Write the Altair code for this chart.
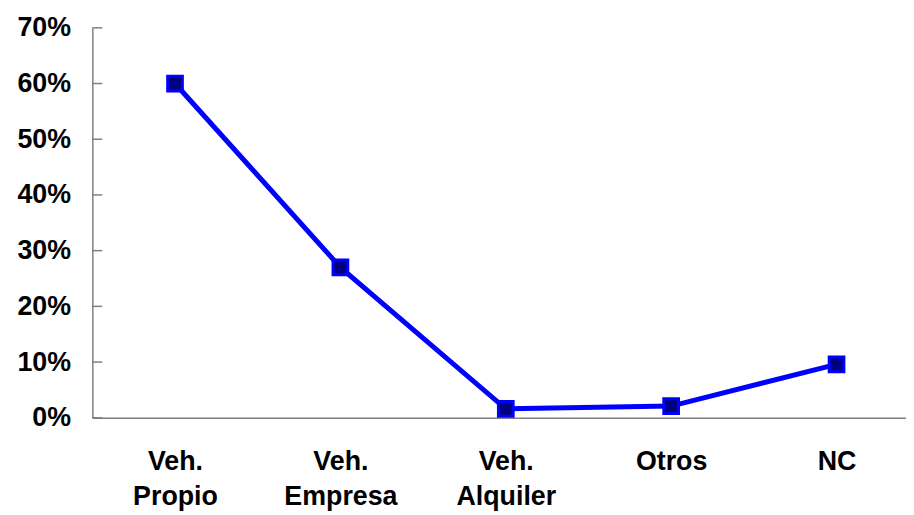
import altair as alt
import pandas as pd

categories = ["Veh.\nPropio", "Veh.\nEmpresa", "Veh.\nAlquiler", "Otros", "NC"]
values = [0.60, 0.27, 0.016, 0.021, 0.096]
y_ticks = [0.0, 0.1, 0.2, 0.3, 0.4, 0.5, 0.6, 0.7]

df = pd.DataFrame({"idx": list(range(len(categories))), "cat": categories, "val": values})
ticks_df = pd.DataFrame({"t": y_ticks})

label_arr = "[" + ",".join("'" + c.replace("\n", "|") + "'" for c in categories) + "]"
label_expr = f"split({label_arr}[datum.value], '|')"

FONT = "Liberation Sans"
FS = 27

x_scale = alt.Scale(domain=[-0.5, 4.42], nice=False, zero=False)
y_scale = alt.Scale(domain=[0, 0.7], nice=False)

x_enc = alt.X("idx:Q", scale=x_scale, axis=alt.Axis(
    values=list(range(len(categories))), labelExpr=label_expr, title=None,
    grid=False, ticks=False, tickSize=0, labelPadding=31, labelLineHeight=35,
    labelFont=FONT, labelFontSize=FS, labelFontWeight="bold", labelColor="black",
    domainColor="#808080", domainWidth=1.5, labelBaseline="top", labelFlush=False))
y_enc = alt.Y("val:Q", scale=y_scale, axis=alt.Axis(
    values=y_ticks, format=".0%", title=None, grid=False, ticks=False, tickSize=0,
    labelPadding=22, labelFont=FONT, labelFontSize=FS, labelFontWeight="bold",
    labelColor="black", domainColor="#808080", domainWidth=1.5))

line = alt.Chart(df).mark_line(color="#0000FF", strokeWidth=5).encode(x=x_enc, y=y_enc)
pts = alt.Chart(df).mark_point(shape="square", filled=True, size=220, fill="#000080",
                               stroke="#0000FF", strokeWidth=3, opacity=1).encode(
    x=alt.X("idx:Q", scale=x_scale), y=alt.Y("val:Q", scale=y_scale))
tickmarks = alt.Chart(ticks_df).mark_rule(color="#808080", strokeWidth=1.5).encode(
    x=alt.value(0), x2=alt.value(10), y=alt.Y("t:Q", scale=y_scale))

chart = alt.layer(line, tickmarks, pts).properties(
    width=820, height=393,
    background="white",
    autosize=alt.AutoSizeParams(type="none"),
    padding={"left": 85, "top": 18, "right": 0, "bottom": 96},
).configure_axis(grid=False, ticks=False).configure_view(stroke=None)

chart.save("out.html", embed_options={"renderer": "svg", "actions": False})
